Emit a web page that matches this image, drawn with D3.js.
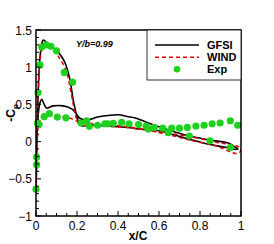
<!DOCTYPE html>
<html><head><meta charset="utf-8">
<script src="https://cdn.jsdelivr.net/npm/d3@7"></script>
<style>body{margin:0;background:#fff}svg{display:block}text{font-family:"Liberation Sans",Arial,sans-serif}</style>
</head><body><svg id="c" width="274" height="244"></svg>
<script>
// GFSI loop: suction-peak branch then back along the other surface
const gfsiX = [0.0,0.003,0.006,0.01,0.015,0.02,0.027,0.035,0.045,0.06,0.08,0.10,0.12,0.14,0.155,0.168,0.18,0.19,0.2,0.21,0.225,0.25,0.3,0.35,0.4,0.45,0.5,0.55,0.613,0.662,0.75,0.849,0.93,0.96,0.985,
  0.97,0.938,0.849,0.75,0.678,0.6,0.53,0.48,0.45,0.40,0.35,0.3,0.25,0.215,0.19,0.174,0.133,0.085,0.065,0.052,0.04,0.028,0.02,0.012,0.005,0.002,0.0];
const gfsiCp = [-0.68,-0.3,0.2,0.6,0.95,1.15,1.30,1.365,1.35,1.31,1.27,1.23,1.16,1.07,0.95,0.8,0.58,0.45,0.33,0.25,0.21,0.22,0.22,0.21,0.2,0.19,0.17,0.16,0.14,0.10,0.03,-0.04,-0.08,-0.10,-0.10,
  -0.07,-0.02,0.02,0.075,0.13,0.2,0.27,0.32,0.335,0.36,0.35,0.33,0.29,0.31,0.40,0.44,0.48,0.48,0.46,0.45,0.5,0.57,0.53,0.4,0.1,-0.3,-0.68];
// WIND loop
const windX = [0,0.003,0.006,0.01,0.015,0.02,0.03,0.04,0.05,0.06,0.08,0.10,0.12,0.14,0.155,0.165,0.175,0.185,0.195,0.205,0.215,0.25,0.3,0.4,0.5,0.6,0.7,0.8,0.9,0.95,0.98,1.0,
  0.995,0.98,0.95,0.9,0.85,0.75,0.65,0.55,0.45,0.35,0.3,0.25,0.21,0.18,0.15,0.10,0.06,0.03,0.015,0.006,0.002,0];
const windCp = [-0.68,-0.3,0.2,0.55,0.9,1.1,1.26,1.31,1.32,1.30,1.25,1.18,1.10,1.0,0.88,0.74,0.6,0.45,0.33,0.25,0.22,0.22,0.21,0.2,0.17,0.13,0.09,0.04,-0.02,-0.04,-0.06,-0.09,
  -0.14,-0.16,-0.14,-0.08,-0.04,0.02,0.09,0.15,0.2,0.23,0.24,0.25,0.26,0.30,0.33,0.34,0.35,0.33,0.25,0.0,-0.35,-0.68];
// Experiment
const expX = [0.0,0.003,0.003,0.007,0.01,0.02,0.028,0.05,0.073,0.10,0.138,0.179,
  0.015,0.04,0.065,0.104,0.146,0.22,0.247,0.26,0.30,0.337,0.35,0.377,0.418,0.454,0.50,0.537,0.548,0.577,0.618,0.645,0.662,0.70,0.738,0.78,0.82,0.859,0.898,0.948,0.984,0.748,0.849,0.948];
const expCp = [-0.64,-0.31,-0.21,0.25,0.66,1.03,1.27,1.30,1.28,1.22,0.93,0.80,
  0.23,0.335,0.375,0.33,0.32,0.25,0.28,0.205,0.22,0.24,0.24,0.245,0.26,0.24,0.23,0.21,0.17,0.19,0.18,0.12,0.18,0.18,0.19,0.21,0.22,0.24,0.25,0.28,0.22,0.075,0.01,-0.08];
const xTicks = [0,0.2,0.4,0.6,0.8,1];
const yTicks = [-1,-0.5,0,0.5,1,1.5];
const legendNames = ["GFSI","WIND","Exp"];

const svg = d3.select("#c");
const L=36,R=241,T=30,B=216;
const x = d3.scaleLinear().domain([0,1]).range([L,R]);
const y = d3.scaleLinear().domain([-1,1.5]).range([B,T]);

svg.append("defs").append("clipPath").attr("id","clp").append("rect")
  .attr("x",L).attr("y",T).attr("width",R-L).attr("height",B-T);

const g = svg.append("g").attr("clip-path","url(#clp)");
const line = d3.line().x(d=>x(d[0])).y(d=>y(d[1])).curve(d3.curveCatmullRom.alpha(0.5));
const gfsi = gfsiX.map((v,i)=>[v,gfsiCp[i]]);
const wind = windX.map((v,i)=>[v,windCp[i]]);
const exp = expX.map((v,i)=>[v,expCp[i]]);

g.append("path").attr("d",line(gfsi)).attr("fill","none").attr("stroke","#000").attr("stroke-width",1.6);
g.append("path").attr("d",line(wind)).attr("fill","none").attr("stroke","#e00000").attr("stroke-width",1.5).attr("stroke-dasharray","4,3");
svg.append("g").selectAll("circle").data(exp).join("circle")
  .attr("cx",d=>x(d[0])).attr("cy",d=>y(d[1])).attr("r",3.6).attr("fill","#1fd01f");

// frame
svg.append("rect").attr("x",L).attr("y",T).attr("width",R-L).attr("height",B-T)
  .attr("fill","none").attr("stroke","#000").attr("stroke-width",1.5);

// x ticks (inward)
const xMinor = d3.range(0,1.0001,0.05);
svg.append("g").selectAll("line").data(xMinor).join("line")
  .attr("x1",d=>x(d)).attr("x2",d=>x(d)).attr("y1",B)
  .attr("y2",d=>B-(Math.abs(d*5-Math.round(d*5))<1e-6?5:3)).attr("stroke","#000").attr("stroke-width",1);
const yMinor = d3.range(-1,1.5001,0.1);
svg.append("g").selectAll("line").data(yMinor).join("line")
  .attr("y1",d=>y(d)).attr("y2",d=>y(d)).attr("x1",L)
  .attr("x2",d=>L+(Math.abs(d*2-Math.round(d*2))<1e-6?5:3)).attr("stroke","#000").attr("stroke-width",1);

svg.append("g").selectAll("text").data(xTicks).join("text")
  .attr("x",d=>x(d)).attr("y",B+14).attr("text-anchor","middle").attr("font-size",12).text(d=>d3.format("")(d));
svg.append("g").selectAll("text").data(yTicks).join("text")
  .attr("x",L-4).attr("y",d=>y(d)+4.5).attr("text-anchor","end").attr("font-size",12).text(d=>d3.format("")(d));

svg.append("text").attr("x",138).attr("y",240).attr("text-anchor","middle").attr("font-size",12).attr("font-weight","bold").text("x/C");
const yl = svg.append("text").attr("transform","translate(15,113) rotate(-90)").attr("text-anchor","middle").attr("font-size",12).attr("font-weight","bold");
yl.append("tspan").text("-C");
yl.append("tspan").attr("font-size",8).attr("dy",3).text("p");

svg.append("text").attr("x",76).attr("y",47).attr("font-size",9).attr("font-weight","bold").attr("font-style","italic").text("Y/b=0.99");

// legend
svg.append("rect").attr("x",147).attr("y",T).attr("width",R-147).attr("height",50).attr("fill","#fff").attr("stroke","#000").attr("stroke-width",0.8);
const lg = svg.append("g");
const ly = [45,57.3,69.3];
lg.append("line").attr("x1",155).attr("x2",199).attr("y1",ly[0]).attr("y2",ly[0]).attr("stroke","#000").attr("stroke-width",1.6);
lg.append("line").attr("x1",155).attr("x2",199).attr("y1",ly[1]).attr("y2",ly[1]).attr("stroke","#e00000").attr("stroke-width",1.5).attr("stroke-dasharray","4,3");
lg.append("circle").attr("cx",177).attr("cy",ly[2]).attr("r",3.3).attr("fill","#1fd01f");
lg.selectAll("text").data(legendNames).join("text").attr("x",207).attr("y",(d,i)=>ly[i]+4)
  .attr("font-size",11).attr("font-weight","bold").text(d=>d);
</script></body></html>
